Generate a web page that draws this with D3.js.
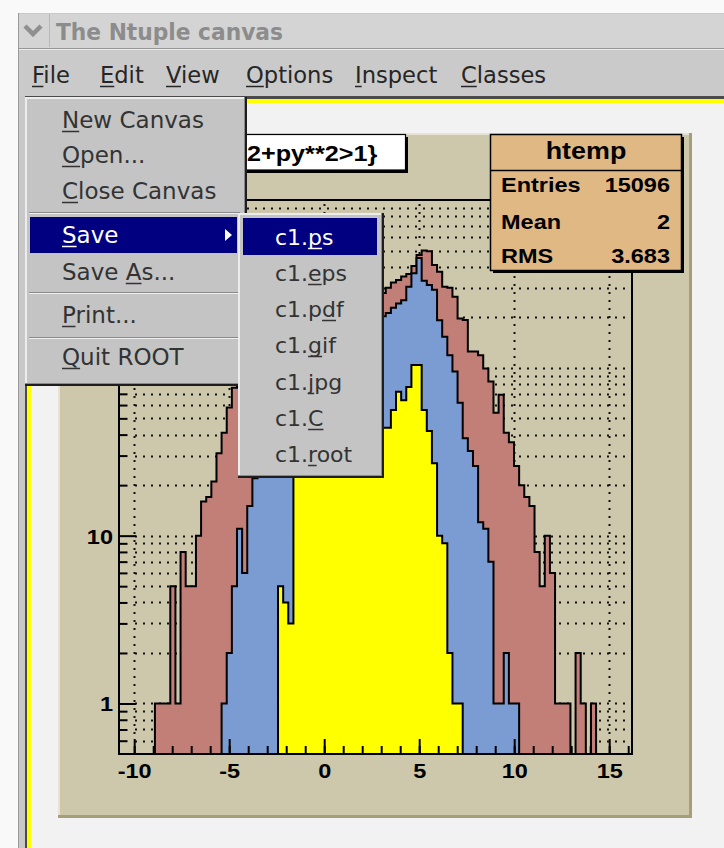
<!DOCTYPE html>
<html>
<head>
<meta charset="utf-8">
<script src="https://cdn.jsdelivr.net/npm/d3@7"></script>
<style>
  html, body { margin: 0; padding: 0; background: #f9f9f9; }
  svg { display: block; }
</style>
</head>
<body>
<svg id="c" width="724" height="848"></svg>
<script>
// ---- histogram binning: 100 bins on [-10.8, 16.2] ----
const binLow = -10.8;
const binWidth = 0.27;
const nBins = 100;

// bin contents, drawn with "same" on a log y axis
const redCounts = [
  0, 0, 0, 0, 0, 0, 0, 1, 1, 1,
  5, 1, 8, 5, 5, 10, 16, 17, 21, 31,
  41, 58, 76, 92, 106, 121, 133, 148, 158, 171,
  180, 191, 198, 209, 214, 223, 227, 236, 239, 246,
  248, 255, 257, 262, 263, 268, 269, 273, 274, 277,
  278, 279, 300, 322, 334, 350, 362, 405, 470, 500,
  495, 410, 374, 304, 300, 265, 197, 193, 125, 125,
  119, 99, 83, 54, 69, 41, 36, 26, 20, 17,
  15, 8, 5, 10, 6, 1, 1, 1, 0, 2,
  1, 0, 1, 0, 0, 0, 0, 0, 0, 0
];
const blueCounts = [
  0, 0, 0, 0, 0, 0, 0, 0, 0, 0,
  0, 0, 0, 0, 0, 0, 0, 0, 0, 0,
  1, 2, 5, 11, 6, 15, 22, 30, 39, 48,
  57, 66, 76, 84, 93, 101, 110, 117, 125, 131,
  139, 144, 152, 157, 164, 169, 176, 181, 187, 192,
  197, 203, 212, 228, 242, 253, 304, 366, 451, 330,
  312, 292, 192, 153, 119, 95, 62, 38, 32, 26,
  12, 11, 7, 1, 1, 2, 1, 1, 0, 0,
  0, 0, 0, 0, 0, 0, 0, 0, 0, 0,
  0, 0, 0, 0, 0, 0, 0, 0, 0, 0
];
const yellowCounts = [
  0, 0, 0, 0, 0, 0, 0, 0, 0, 0,
  0, 0, 0, 0, 0, 0, 0, 0, 0, 0,
  0, 0, 0, 0, 0, 0, 0, 0, 0, 0,
  0, 5, 4, 3, 27, 29, 31, 32, 34, 35,
  36, 37, 39, 38, 40, 41, 40, 42, 43, 42,
  44, 44, 44, 56, 72, 64, 77, 104, 104, 56,
  42, 27, 10, 9, 2, 1, 1, 0, 0, 0,
  0, 0, 0, 0, 0, 0, 0, 0, 0, 0,
  0, 0, 0, 0, 0, 0, 0, 0, 0, 0,
  0, 0, 0, 0, 0, 0, 0, 0, 0, 0
];

// axis ticks (the 10^2 label sits under the File menu)
const xMajorTicks = [-10, -5, 0, 5, 10, 15];
const xMinorTicks = [-10, -9, -8, -7, -6, -5, -4, -3, -2, -1, 0, 1, 2, 3, 4, 5, 6, 7, 8, 9, 10, 11, 12, 13, 14, 15, 16];
const yMajorTicks = [1, 10, 100];
const yLabelledTicks = [1, 10];
const yMinorTicks = [0.6, 0.7, 0.8, 0.9, 2, 3, 4, 5, 6, 7, 8, 9, 20, 30, 40, 50, 60, 70, 80, 90, 200, 300, 400, 500, 600, 700, 800, 900];

// texts
const windowTitle = "The Ntuple canvas";
const menuBarItems = ["File", "Edit", "View", "Options", "Inspect", "Classes"];
const fileMenuItems = ["New Canvas", "Open...", "Close Canvas", "Save", "Save As...", "Print...", "Quit ROOT"];
const fileMenuMnemonics = [0, 0, 0, 0, 5, 0, 0];
const saveMenuItems = ["c1.ps", "c1.eps", "c1.pdf", "c1.gif", "c1.jpg", "c1.C", "c1.root"];
const saveMenuMnemonics = [3, 3, 4, 3, 3, 3, 3];
const titleVisible = "2+py**2>1}";   // rest of the pad title is under the File menu
const statsName = "htemp";
const statsLabels = ["Entries", "Mean", "RMS"];
const statsValues = ["15096", "2", "3.683"];

// ---- drawing ----
const svg = d3.select("#c");
const W = 724, H = 848;
const MENU_FONT = '"DejaVu Sans", "Noto Sans", sans-serif';
const ROOT_FONT = '"Liberation Sans", Arial, Helvetica, sans-serif';

function rootText(g, x, y, str, size, anchor) {
  return g.append("text")
    .attr("transform", `translate(${x},${y}) scale(1.12,1)`)
    .attr("text-anchor", anchor)
    .style("font-family", ROOT_FONT)
    .style("font-weight", "bold")
    .style("font-size", size + "px")
    .attr("fill", "#000")
    .text(str);
}

function underlinedText(g, x, y, str, idx, color, size) {
  const t = g.append("text")
    .attr("x", x).attr("y", y)
    .style("font-family", MENU_FONT)
    .style("font-size", size + "px")
    .attr("fill", color)
    .text(str);
  if (idx != null && idx >= 0) {
    const ext = t.node().getExtentOfChar(idx);
    g.append("line")
      .attr("x1", ext.x).attr("x2", ext.x + ext.width)
      .attr("y1", y + 3.5).attr("y2", y + 3.5)
      .attr("stroke", color).attr("stroke-width", 1.5);
  }
  return t;
}

// desktop + window body
svg.append("rect").attr("width", W).attr("height", H).attr("fill", "#f9f9f9");
svg.append("rect").attr("x", 18).attr("y", 13).attr("width", W - 18).attr("height", H - 13).attr("fill", "#c8c8c8");
svg.append("line").attr("x1", 18.5).attr("x2", 18.5).attr("y1", 13).attr("y2", H).attr("stroke", "#9a9a9a");

// title bar
const tb = svg.append("g");
tb.append("rect").attr("x", 19).attr("y", 14).attr("width", W - 19).attr("height", 34).attr("fill", "#d4d4d4");
tb.append("path").attr("d", "M25,26 L33,34 L41,26").attr("fill", "none")
  .attr("stroke", "#8f8f8f").attr("stroke-width", 4.5).attr("stroke-linecap", "butt");
tb.append("line").attr("x1", 49.5).attr("x2", 49.5).attr("y1", 14).attr("y2", 47).attr("stroke", "#b8b8b8");
tb.append("text").attr("x", 56).attr("y", 40)
  .style("font-family", '"DejaVu Sans Condensed", "DejaVu Sans", sans-serif')
  .style("font-stretch", "condensed")
  .style("font-weight", "bold").style("font-size", "23px")
  .attr("textLength", 227).attr("lengthAdjust", "spacingAndGlyphs")
  .attr("fill", "#8c8c8c").text(windowTitle);
tb.append("line").attr("x1", 19).attr("x2", W).attr("y1", 48.5).attr("y2", 48.5).attr("stroke", "#979797");
tb.append("line").attr("x1", 19).attr("x2", W).attr("y1", 49.5).attr("y2", 49.5).attr("stroke", "#ececec");

// menu bar
const mb = svg.append("g");
mb.append("rect").attr("x", 19).attr("y", 50).attr("width", W - 19).attr("height", 46).attr("fill", "#cacaca");
const menuBarX = [32, 100, 166, 246, 355, 461];
menuBarItems.forEach((s, i) => underlinedText(mb, menuBarX[i], 83, s, 0, "#262626", 22.6));

// canvas area (yellow = selected canvas)
svg.append("rect").attr("x", 25).attr("y", 96).attr("width", W - 25).attr("height", H - 96).attr("fill", "#4a4a4a");
svg.append("rect").attr("x", 27).attr("y", 99).attr("width", W - 27).attr("height", H - 99).attr("fill", "#ffff00");
svg.append("rect").attr("x", 31).attr("y", 103).attr("width", W - 31).attr("height", H - 103).attr("fill", "#f2f2f2");

// pad with bevel
const pad = svg.append("g");
const padX0 = 58, padY0 = 133, padX1 = 692, padY1 = 818;
pad.append("rect").attr("x", padX0).attr("y", padY0).attr("width", padX1 - padX0).attr("height", padY1 - padY0).attr("fill", "#a49f78");
pad.append("rect").attr("x", padX0).attr("y", padY0).attr("width", padX1 - padX0 - 3).attr("height", padY1 - padY0 - 3).attr("fill", "#e6e3d4");
pad.append("rect").attr("x", padX0 + 2).attr("y", padY0 + 2).attr("width", padX1 - padX0 - 5).attr("height", padY1 - padY0 - 5).attr("fill", "#cdc8ab");

// frame
const fx0 = 119, fx1 = 632, fy0 = 200, fy1 = 754;
const xScale = d3.scaleLinear().domain([binLow, binLow + nBins * binWidth]).range([fx0, fx1]);
const yScale = d3.scaleLog().domain([0.5, 1000]).range([fy1, fy0]);

const plot = svg.append("g");
plot.append("rect").attr("x", fx0).attr("y", fy0).attr("width", fx1 - fx0).attr("height", fy1 - fy0).attr("fill", "#cdc8ab");

// dotted grid
const grid = plot.append("g").attr("stroke", "#111").attr("stroke-width", 2).attr("stroke-dasharray", "2,6");
grid.selectAll(".gy").data(yMajorTicks.concat(yMinorTicks)).join("line")
  .attr("x1", fx0 + 16).attr("x2", fx1)
  .attr("y1", d => Math.round(yScale(d)) + 0.5).attr("y2", d => Math.round(yScale(d)) + 0.5);
grid.selectAll(".gx").data(xMajorTicks).join("line")
  .attr("x1", d => Math.round(xScale(d)) + 0.5).attr("x2", d => Math.round(xScale(d)) + 0.5)
  .attr("y1", fy0 + 4).attr("y2", fy1 - 14);

// histograms
svg.append("clipPath").attr("id", "frameClip").append("rect")
  .attr("x", fx0).attr("y", fy0).attr("width", fx1 - fx0).attr("height", fy1 - fy0);
const edges = d3.range(nBins + 1).map(i => binLow + i * binWidth);
const yOf = c => (c > 0 ? yScale(c) : fy1);
const stepLine = d3.line().curve(d3.curveStepAfter).x(d => xScale(d.x)).y(d => yOf(d.c));
function histPoints(counts) {
  const pts = [{ x: edges[0], c: 0 }];
  counts.forEach((c, i) => pts.push({ x: edges[i], c }));
  pts.push({ x: edges[nBins], c: counts[nBins - 1] });
  pts.push({ x: edges[nBins], c: 0 });
  return pts;
}
const histLayer = plot.append("g").attr("clip-path", "url(#frameClip)");
[[redCounts, "#c17f77"], [blueCounts, "#7b9bd3"], [yellowCounts, "#ffff00"]].forEach(([counts, col]) => {
  histLayer.append("path")
    .attr("d", stepLine(histPoints(counts)) + "Z")
    .attr("fill", col).attr("stroke", "#000").attr("stroke-width", 2)
    .attr("stroke-linejoin", "miter");
});

// frame border
plot.append("rect").attr("x", fx0).attr("y", fy0).attr("width", fx1 - fx0).attr("height", fy1 - fy0)
  .attr("fill", "none").attr("stroke", "#000").attr("stroke-width", 2);

// axes
const xAxisMinor = plot.append("g").attr("transform", `translate(0,${fy1})`)
  .call(d3.axisBottom(xScale).tickValues(xMinorTicks).tickSize(-8).tickFormat(""));
const xAxisMajor = plot.append("g").attr("transform", `translate(0,${fy1})`)
  .call(d3.axisBottom(xScale).tickValues(xMajorTicks).tickSize(-15).tickFormat(d3.format("d")));
const yAxisMinor = plot.append("g").attr("transform", `translate(${fx0},0)`)
  .call(d3.axisLeft(yScale).tickValues(yMinorTicks).tickSize(-8.5).tickFormat(""));
const yAxisMajor = plot.append("g").attr("transform", `translate(${fx0},0)`)
  .call(d3.axisLeft(yScale).tickValues(yMajorTicks).tickSize(-17).tickFormat(""));
const yAxisLabels = plot.append("g").attr("transform", `translate(${fx0},0)`)
  .call(d3.axisLeft(yScale).tickValues(yLabelledTicks).tickSize(0).tickFormat(d3.format("d")));
[xAxisMinor, xAxisMajor, yAxisMinor, yAxisMajor, yAxisLabels].forEach(a => {
  a.select(".domain").remove();
  a.selectAll(".tick line").attr("stroke", "#000").attr("stroke-width", 2);
});
xAxisMajor.selectAll(".tick text")
  .attr("y", 0).attr("dy", null)
  .attr("transform", "translate(0,24) scale(1.12,1)")
  .style("font-family", ROOT_FONT).style("font-weight", "bold").style("font-size", "21px")
  .attr("fill", "#000")
  .text(d => (d < 0 ? "-" + Math.abs(d) : String(d)));
yAxisLabels.selectAll(".tick text")
  .attr("x", 0).attr("dy", null)
  .attr("transform", "translate(-6,7.5) scale(1.12,1)")
  .attr("text-anchor", "end")
  .style("font-family", ROOT_FONT).style("font-weight", "bold").style("font-size", "21px")
  .attr("fill", "#000");

// title box
const tbox = svg.append("g");
tbox.append("rect").attr("x", 69).attr("y", 137).attr("width", 339).attr("height", 36).attr("fill", "#000");
tbox.append("rect").attr("x", 66.5).attr("y", 134.5).attr("width", 339).attr("height", 35.5)
  .attr("fill", "#fff").attr("stroke", "#000").attr("stroke-width", 1.2);
rootText(tbox, 247, 161, titleVisible, 22.5, "start");

// stats box
const sb = svg.append("g");
const sx0 = 490, sy0 = 134, sx1 = 681, sy1 = 270;
sb.append("rect").attr("x", sx0 + 3).attr("y", sy0 + 3).attr("width", sx1 - sx0).attr("height", sy1 - sy0).attr("fill", "#000");
sb.append("rect").attr("x", sx0 + 0.5).attr("y", sy0 + 0.5).attr("width", sx1 - sx0).attr("height", sy1 - sy0)
  .attr("fill", "#e0b884").attr("stroke", "#000").attr("stroke-width", 1.5);
sb.append("line").attr("x1", sx0).attr("x2", sx1).attr("y1", 170.5).attr("y2", 170.5).attr("stroke", "#000").attr("stroke-width", 1.5);
rootText(sb, 586, 159, statsName, 24, "middle");
const statsY = [192, 228.5, 263];
statsLabels.forEach((s, i) => {
  rootText(sb, 501, statsY[i], s, 21, "start");
  rootText(sb, 670, statsY[i], statsValues[i], 21, "end");
});

// popup menus
function popup(x0, y0, x1, y1) {
  const g = svg.append("g");
  g.append("rect").attr("x", x0).attr("y", y0).attr("width", x1 - x0).attr("height", y1 - y0).attr("fill", "#1e1e1e");
  g.append("rect").attr("x", x0).attr("y", y0).attr("width", x1 - x0 - 2).attr("height", y1 - y0 - 2).attr("fill", "#8a8a8a");
  g.append("rect").attr("x", x0).attr("y", y0).attr("width", x1 - x0 - 3).attr("height", y1 - y0 - 3).attr("fill", "#ececec");
  g.append("rect").attr("x", x0 + 2).attr("y", y0 + 2).attr("width", x1 - x0 - 5).attr("height", y1 - y0 - 5).attr("fill", "#c4c4c4");
  return g;
}
function separator(g, x0, x1, y) {
  g.append("line").attr("x1", x0).attr("x2", x1).attr("y1", y + 0.5).attr("y2", y + 0.5).attr("stroke", "#8a8a8a");
  g.append("line").attr("x1", x0).attr("x2", x1).attr("y1", y + 1.5).attr("y2", y + 1.5).attr("stroke", "#efefef");
}

const fm = popup(25, 97, 247, 386);
const fileY = [128, 163, 199, 243, 280, 323, 365];
separator(fm, 29, 240, 212);
separator(fm, 29, 240, 292);
separator(fm, 29, 240, 337);
fm.append("rect").attr("x", 30).attr("y", 217).attr("width", 207).attr("height", 36).attr("fill", "#000080");
fm.append("path").attr("d", "M225,229 L232,235 L225,241 Z").attr("fill", "#fff");
fileMenuItems.forEach((s, i) => underlinedText(fm, 62, fileY[i], s, fileMenuMnemonics[i], i === 3 ? "#fff" : "#333", 23));

const sm = popup(238, 213, 384, 478);
sm.append("rect").attr("x", 243).attr("y", 218).attr("width", 134).attr("height", 37).attr("fill", "#000080");
const saveY = [245, 281, 317, 353, 390, 426, 462];
saveMenuItems.forEach((s, i) => underlinedText(sm, 275, saveY[i], s, saveMenuMnemonics[i], i === 0 ? "#fff" : "#333", 22));
</script>
</body>
</html>
